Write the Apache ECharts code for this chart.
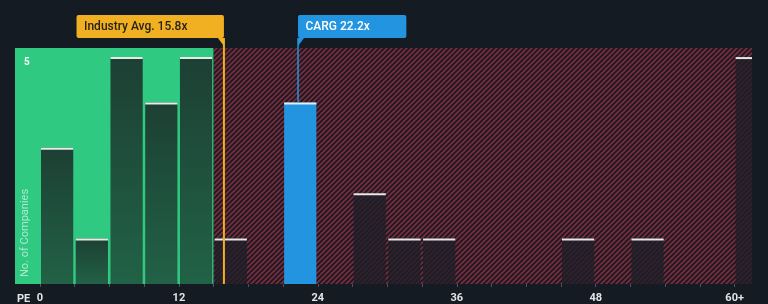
<!DOCTYPE html>
<html>
<head>
<meta charset="utf-8">
<script src="https://cdn.jsdelivr.net/npm/echarts@6/dist/echarts.min.js"></script>
<style>
  html, body { margin: 0; padding: 0; background: #151b23; }
  #chart { width: 768px; height: 304px; }
</style>
</head>
<body>
<div id="chart"></div>
<script>
// ---- data ----
const binStarts = [0, 3, 6, 9, 12, 15, 18, 21, 24, 27, 30, 33, 36, 39, 42, 45, 48, 51, 54, 57, 60];
const binCounts = [3, 1, 5, 4, 5, 1, 0, 4, 0, 2, 1, 1, 0, 0, 0, 1, 0, 1, 0, 0, 5];
const binWidth = 3;
const xTickValues = [0, 12, 24, 36, 48, 60];
const xTickLabels = ['0', '12', '24', '36', '48', '60+'];
const yTickValues = [5];
const industryAvg = 15.8;
const industryLabel = 'Industry Avg. 15.8x';
const companyPE = 22.2;
const companyLabel = 'CARG 22.2x';
const fairZoneEnd = 15;

// ---- layout / style ----
const xMin = -2.16, xMax = 61.5, yMax = 5.2;
const FONT = 'Roboto, "Noto Sans", sans-serif';
const BG = '#151b23';
const GREEN = '#2fc981';
const BLUE = '#2394df';
const GOLD = '#f0b021';

function makeHatch() {
  const s = 5;
  const c = document.createElement('canvas');
  c.width = s; c.height = s;
  const g = c.getContext('2d');
  g.fillStyle = '#1c1a22';
  g.fillRect(0, 0, s, s);
  g.strokeStyle = '#7a2d3e';
  g.lineWidth = 1.6;
  g.beginPath();
  g.moveTo(-1, s + 1); g.lineTo(s + 1, -1);
  g.moveTo(-1, 1); g.lineTo(1, -1);
  g.moveTo(s - 1, s + 1); g.lineTo(s + 1, s - 1);
  g.stroke();
  return c;
}

const barData = binStarts.map((s, i) => [s, s + binWidth, binCounts[i]]);
const companyCount = binCounts[binStarts.findIndex(s => companyPE >= s && companyPE < s + binWidth)];

const measureCtx = document.createElement('canvas').getContext('2d');
function textW(t, font) { measureCtx.font = font; return measureCtx.measureText(t).width; }

const chart = echarts.init(document.getElementById('chart'), null, { renderer: 'canvas' });

const option = {
  backgroundColor: BG,
  animation: false,
  grid: { left: 15, right: 16, top: 48, bottom: 20 },
  xAxis: {
    type: 'value', min: xMin, max: xMax, z: 10,
    axisLine: { show: false },
    splitLine: { show: false },
    axisTick: {
      show: true, length: 3,
      customValues: binStarts,
      lineStyle: { color: 'rgba(255,255,255,0.25)', width: 1 }
    },
    axisLabel: {
      customValues: xTickValues,
      formatter: v => xTickLabels[xTickValues.indexOf(v)],
      color: '#e2e4e6', fontSize: 11, fontWeight: 'bold', fontFamily: FONT, margin: 9
    }
  },
  yAxis: {
    type: 'value', min: 0, max: yMax, z: 10,
    axisLine: { show: false }, axisTick: { show: false }, splitLine: { show: false },
    axisLabel: {
      show: true, inside: true, customValues: yTickValues, margin: 9, verticalAlign: 'top',
      formatter: v => String(v),
      color: '#ffffff', fontSize: 10, fontWeight: 'bold', fontFamily: FONT
    }
  },
  graphic: [
    { type: 'text', z: 100, left: 17, top: 294, style: { text: 'PE', fill: '#e2e4e6', font: 'bold 11px ' + FONT } },
    { type: 'text', z: 100, x: 25, y: 277, rotation: Math.PI / 2,
      style: { text: 'No. of Companies', fill: 'rgba(255,255,255,0.6)', font: '11px ' + FONT, align: 'left', verticalAlign: 'middle' } }
  ],
  series: [
    {
      type: 'line', data: [], z: 0, silent: true,
      markArea: {
        silent: true,
        data: [
          [{ xAxis: xMin, itemStyle: { color: GREEN } }, { xAxis: fairZoneEnd }],
          [{ xAxis: fairZoneEnd, itemStyle: { color: { image: makeHatch(), repeat: 'repeat' } } }, { xAxis: xMax }]
        ]
      }
    },
    {
      type: 'custom', z: 2, clip: true,
      data: barData,
      renderItem: function (params, api) {
        const s = api.value(0), e = api.value(1), n = api.value(2);
        if (!n) return null;
        const top = api.coord([s, n]);
        const bot = api.coord([e, 0]);
        const cs = params.coordSys;
        const x0 = top[0] + 1;
        const x1 = Math.min(bot[0] - 1.5, cs.x + cs.width);
        const w = x1 - x0;
        const h = bot[1] - top[1];
        let fill;
        if (companyPE >= s && companyPE < e) fill = BLUE;
        else if (e <= fairZoneEnd) fill = new echarts.graphic.LinearGradient(0, 0, 0, 1, [
          { offset: 0, color: 'rgba(28,58,48,0.96)' },
          { offset: 1, color: 'rgba(28,58,48,0.72)' }
        ]);
        else fill = 'rgba(30,30,40,0.8)';
        return {
          type: 'group',
          children: [
            { type: 'rect', shape: { x: x0, y: top[1], width: w, height: h }, style: { fill: fill } },
            { type: 'rect', shape: { x: x0, y: top[1], width: w, height: 2 }, style: { fill: 'rgba(240,244,242,0.95)' } }
          ]
        };
      }
    },
    {
      type: 'custom', z: 5, clip: false,
      data: [[industryAvg], [companyPE]],
      renderItem: function (params, api) {
        const cs = params.coordSys;
        const v = api.value(0);
        const isInd = params.dataIndex === 0;
        const p = api.coord([v, 0]);
        const lx = p[0] + 1;
        const boxBottom = cs.y - 10;
        const boxH = 23;
        const font = '500 12px ' + FONT;
        const text = isInd ? industryLabel : companyLabel;
        const tw = textW(text, font);
        const bw = tw + 44;
        const color = isInd ? GOLD : BLUE;
        const lineEnd = isInd ? cs.y + cs.height : api.coord([v, companyCount])[1];
        const bx = isInd ? lx - bw : lx;
        const tail = isInd
          ? [[lx - 6, boxBottom], [lx, boxBottom], [lx, boxBottom + 8]]
          : [[lx, boxBottom], [lx + 6, boxBottom], [lx, boxBottom + 8]];
        return {
          type: 'group',
          children: [
            { type: 'line', shape: { x1: lx, y1: boxBottom, x2: lx, y2: lineEnd },
              style: { stroke: color, lineWidth: isInd ? 2 : 1.5 } },
            { type: 'rect', shape: { x: bx, y: boxBottom - boxH, width: bw, height: boxH, r: 2 },
              style: { fill: color } },
            { type: 'polygon', shape: { points: tail }, style: { fill: color } },
            { type: 'text', style: { text: text, x: bx + 7.5, y: boxBottom - boxH / 2,
              fill: isInd ? '#262219' : '#ffffff', font: font, verticalAlign: 'middle', align: 'left' } }
          ]
        };
      }
    }
  ]
};
chart.setOption(option);
</script>
</body>
</html>
